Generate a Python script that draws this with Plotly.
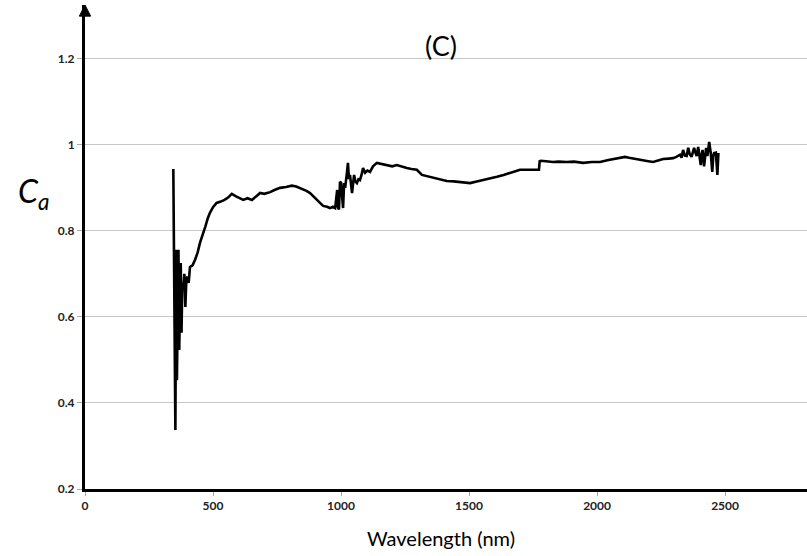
import plotly.graph_objects as go

wavelength = [345, 347, 349, 351, 353, 355, 357, 359, 362, 365, 368, 371, 374, 377, 380, 384, 388, 392, 396, 400,
              405, 410, 420, 430, 440, 449, 460, 470, 480, 488, 500, 514, 530, 545, 560, 573, 590, 600, 618, 635,
              652, 668, 684, 700, 723, 740, 762, 785, 808, 825, 847, 865, 879, 893, 905, 918, 930, 945, 957, 968,
              977, 985, 988, 992, 996, 1000, 1004, 1008, 1012, 1016, 1023, 1027, 1031, 1035, 1043, 1047, 1051, 1056,
              1062, 1068, 1074, 1080, 1086, 1094, 1103, 1113, 1125, 1140, 1160, 1180, 1200, 1218, 1240, 1257, 1275,
              1296, 1316, 1338, 1360, 1385, 1413, 1440, 1465, 1485, 1504, 1530, 1555, 1580, 1609, 1635, 1660, 1680,
              1699, 1720, 1750, 1773, 1776, 1781, 1800, 1828, 1850, 1880, 1910, 1945, 1980, 2012, 2040, 2063, 2090,
              2109, 2125, 2141, 2160, 2180, 2200, 2219, 2240, 2258, 2280, 2297, 2310, 2324, 2330, 2336, 2343, 2350,
              2356, 2362, 2369, 2375, 2379, 2385, 2389, 2395, 2400, 2405, 2408, 2412, 2418, 2422, 2426, 2431, 2438,
              2444, 2450, 2454, 2457, 2464, 2470, 2474]
ca = [0.944, 0.80, 0.71, 0.45, 0.337, 0.60, 0.756, 0.453, 0.70, 0.756, 0.523, 0.70, 0.725, 0.563, 0.68, 0.663, 0.70,
      0.623, 0.69, 0.693, 0.679, 0.716, 0.72, 0.733, 0.75, 0.772, 0.79, 0.81, 0.83, 0.842, 0.855, 0.865, 0.868,
      0.872, 0.878, 0.886, 0.880, 0.877, 0.872, 0.876, 0.872, 0.880, 0.888, 0.886, 0.89, 0.895, 0.90, 0.902, 0.905,
      0.903, 0.898, 0.893, 0.888, 0.880, 0.872, 0.866, 0.858, 0.856, 0.853, 0.856, 0.853, 0.895, 0.855, 0.85, 0.914,
      0.912, 0.87, 0.853, 0.911, 0.90, 0.935, 0.958, 0.92, 0.93, 0.888, 0.905, 0.93, 0.915, 0.911, 0.92, 0.918,
      0.93, 0.946, 0.935, 0.94, 0.937, 0.95, 0.958, 0.955, 0.953, 0.950, 0.953, 0.948, 0.946, 0.944, 0.942, 0.93,
      0.927, 0.923, 0.920, 0.916, 0.915, 0.914, 0.912, 0.911, 0.915, 0.918, 0.922, 0.926, 0.930, 0.934, 0.938,
      0.942, 0.942, 0.942, 0.942, 0.962, 0.963, 0.962, 0.960, 0.961, 0.960, 0.961, 0.958, 0.960, 0.960, 0.964,
      0.967, 0.970, 0.972, 0.970, 0.968, 0.966, 0.963, 0.962, 0.960, 0.964, 0.967, 0.968, 0.969, 0.972, 0.977,
      0.970, 0.988, 0.975, 0.974, 0.993, 0.978, 0.972, 0.985, 0.993, 0.980, 0.974, 0.995, 0.975, 0.953, 0.975,
      0.988, 0.95, 0.97, 0.993, 0.974, 1.007, 0.981, 0.937, 0.975, 0.981, 0.982, 0.93, 0.981]

x_ticks = [0, 500, 1000, 1500, 2000, 2500]
y_ticks = [0.2, 0.4, 0.6, 0.8, 1.0, 1.2]
y_tick_labels = ["0.2", "0.4", "0.6", "0.8", "1", "1.2"]

FONT = "Lato"

fig = go.Figure()
fig.add_trace(go.Scatter(x=wavelength, y=ca, mode="lines",
                         line=dict(color="black", width=2.6), hoverinfo="skip", showlegend=False))

fig.update_layout(
    width=807, height=556,
    margin=dict(l=85, r=0, t=5, b=67, autoexpand=False),
    paper_bgcolor="white", plot_bgcolor="white",
    font=dict(family=FONT, color="black"),
    xaxis=dict(range=[0, 2820], tickvals=x_ticks, showgrid=False, zeroline=False, automargin=False,
               showline=True, linecolor="black", linewidth=3,
               ticks="outside", ticklen=4, tickcolor="#aaaaaa", tickwidth=1,
               tickfont=dict(family=FONT, size=12, color="#222222", weight="bold")),
    yaxis=dict(range=[0.2, 1.325], tickvals=y_ticks, ticktext=y_tick_labels, automargin=False,
               showgrid=True, gridcolor="#c6c6c6", gridwidth=1.3, zeroline=False,
               showline=True, linecolor="black", linewidth=3,
               ticks="outside", ticklen=5, tickcolor="#aaaaaa", tickwidth=1,
               tickfont=dict(family=FONT, size=12, color="#222222", weight="bold")),
    shapes=[
        # arrowhead on top of the y axis
        dict(type="path", xref="paper", yref="paper",
             path="M -0.0078 0.977 L 0.0078 0.977 L 0 1.0 Z",
             fillcolor="black", line=dict(color="black", width=1)),
    ],
    annotations=[
        dict(text="(C)", x=0.493, y=0.917, xref="paper", yref="paper", showarrow=False,
             xanchor="center", yanchor="middle",
             font=dict(family=FONT, size=27, color="black")),
        dict(text="Wavelength (nm)", x=0.493, y=-0.101, xref="paper", yref="paper", showarrow=False,
             xanchor="center", yanchor="middle",
             font=dict(family=FONT, size=20, color="black")),
        dict(text="<i>C<sub>a</sub></i>", x=-0.072, y=0.611, xref="paper", yref="paper", showarrow=False,
             xanchor="center", yanchor="middle",
             font=dict(family=FONT, size=32, color="black")),
    ],
)

fig.write_html("out.html", config={"displayModeBar": False},
               post_script="document.body.style.margin='0';")
